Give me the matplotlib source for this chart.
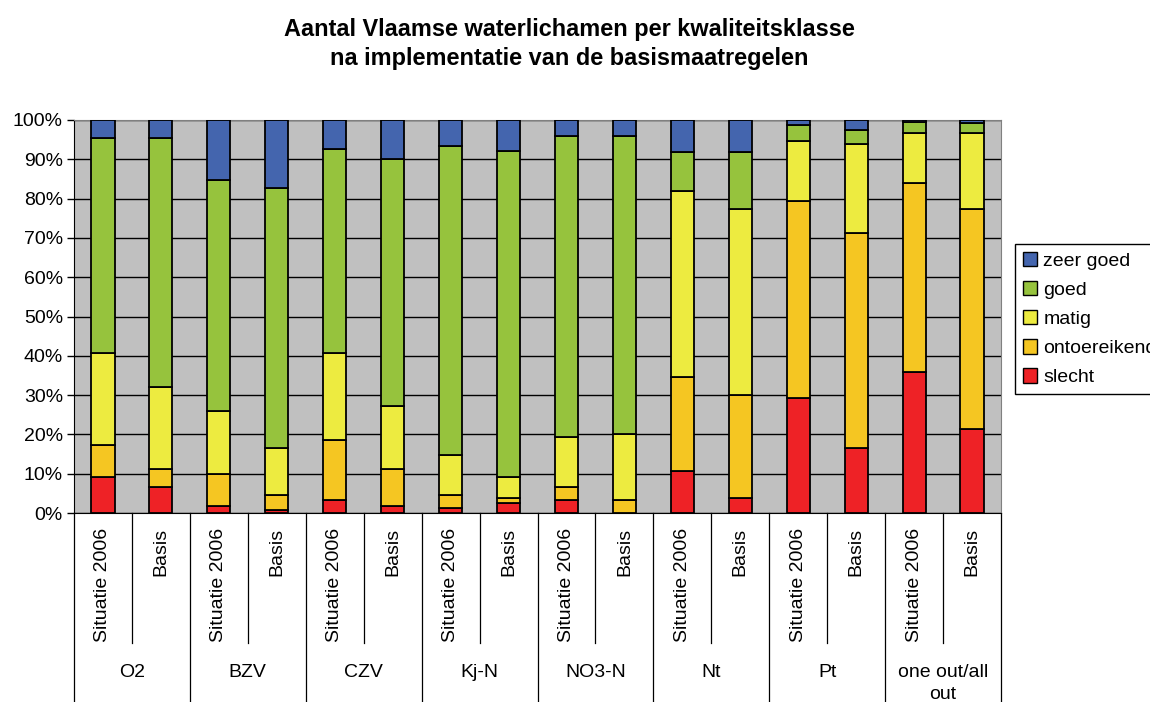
import matplotlib
matplotlib.use("Agg")
import matplotlib.pyplot as plt
from matplotlib.transforms import blended_transform_factory
from matplotlib.patches import Patch
import numpy as np

plt.rcParams['font.family'] = ['Liberation Sans', 'DejaVu Sans']

groups = ["O2", "BZV", "CZV", "Kj-N", "NO3-N", "Nt", "Pt", "one out/all\nout"]
subs = ["Situatie 2006", "Basis"]
classes = ["slecht", "ontoereikend", "matig", "goed", "zeer goed"]
colors = ["#EE2226", "#F5C622", "#EDEB40", "#96C33D", "#4465AE"]

slecht = [9.2, 6.5, 1.9, 0.7, 3.2, 1.9, 1.2, 2.5, 3.2, 0.0, 10.7, 3.8, 29.3, 16.5, 36.0, 21.3]
ontoereikend = [8.1, 4.7, 8.0, 3.9, 15.4, 9.3, 3.4, 1.3, 3.3, 3.2, 23.9, 26.1, 50.1, 54.8, 48.0, 56.0]
matig = [23.3, 20.8, 16.0, 11.9, 22.0, 16.1, 10.1, 5.4, 12.8, 16.8, 47.4, 47.5, 15.3, 22.7, 12.7, 19.3]
goed = [54.7, 63.3, 58.8, 66.1, 52.0, 62.7, 78.6, 82.8, 76.6, 75.9, 9.9, 14.5, 4.0, 3.4, 2.7, 2.7]
zeer_goed = [4.7, 4.7, 15.3, 17.4, 7.4, 10.0, 6.7, 8.0, 4.1, 4.1, 8.1, 8.1, 1.3, 2.6, 0.6, 0.7]
series = [slecht, ontoereikend, matig, goed, zeer_goed]

W, H = 1150, 702
fig = plt.figure(figsize=(W / 100, H / 100), dpi=100)
L, R, T, B = 74, 1001, 120, 513
ax = fig.add_axes([L / W, 1 - B / H, (R - L) / W, (B - T) / H])
ax.set_facecolor("#C0C0C0")

n = len(slecht)
x = np.arange(n) + 0.5
bottom = np.zeros(n)
for vals, col, name in zip(series, colors, classes):
    v = np.array(vals)
    ax.bar(x, v, 0.4, bottom=bottom, color=col, edgecolor="black", linewidth=1.3, label=name, zorder=3)
    bottom += v

ax.set_xlim(0, n)
ax.set_ylim(0, 100)
ax.set_yticks(np.arange(0, 101, 10))
ax.set_yticklabels([f"{v}%" for v in range(0, 101, 10)], fontsize=14)
ax.yaxis.grid(True, color="black", linewidth=1.0, zorder=1)
ax.set_axisbelow(True)
ax.tick_params(axis="y", direction="out", length=5, width=1, pad=3)
ax.set_xticks([])
for s in ["top", "right"]:
    ax.spines[s].set_color("#808080")
ax.spines["left"].set_color("black")
ax.spines["bottom"].set_color("black")

tr = blended_transform_factory(ax.transData, ax.transAxes)
px = 1.0 / (B - T)  # one pixel in axes fraction (vertical)
# separator lines in category area
for i in range(n + 1):
    if i % 2 == 0:
        y1 = -(H - B) * px
    else:
        y1 = -(643 - B) * px
    ax.plot([i, i], [0, y1], color="black", linewidth=0.9, transform=tr, clip_on=False)

for i in range(n):
    ax.text(x[i], -(528 - B) * px, subs[i % 2], rotation=90, ha="center", va="top",
            fontsize=14, transform=tr)
for g, name in enumerate(groups):
    ax.text(2 * g + 1, -(664 - B) * px, name, ha="center", va="top", fontsize=14,
            transform=tr, linespacing=1.42)

fig.text(0.5 * (285 + 853) / W, 1 - 44 / H,
         "Aantal Vlaamse waterlichamen per kwaliteitsklasse\nna implementatie van de basismaatregelen",
         ha="center", va="center", fontsize=16.9, fontweight="bold", linespacing=1.3)

handles = [Patch(facecolor=c, edgecolor="black", linewidth=1) for c in colors[::-1]]
leg = fig.legend(handles, classes[::-1], loc="upper left",
                 bbox_to_anchor=(1015 / W, 1 - 244 / H), fontsize=14,
                 frameon=True, fancybox=False, edgecolor="black", framealpha=1,
                 handlelength=0.75, handleheight=0.75, handletextpad=0.3,
                 borderpad=0.4, labelspacing=0.58, borderaxespad=0)
leg.get_frame().set_linewidth(1.0)

fig.savefig("out.png", dpi=100)
